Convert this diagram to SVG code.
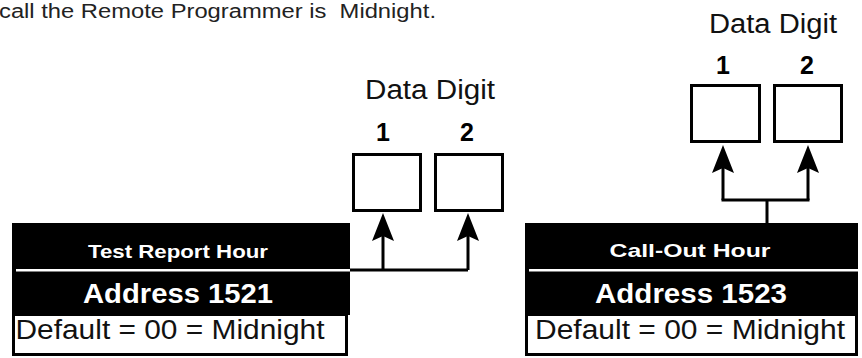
<svg xmlns="http://www.w3.org/2000/svg" width="862" height="358" viewBox="0 0 862 358">
<style>
text{font-family:"Liberation Sans",Arial,sans-serif;}
.reg{font-weight:normal;fill:#111;}
.bold{font-weight:bold;}
.wt{fill:#fff;font-weight:bold;}
.cell{fill:#fff;stroke:#000;stroke-width:3;}
.blk{fill:#000;}
.sep{fill:#fff;}
.wire{fill:none;stroke:#000;stroke-width:3;}
.arr{fill:none;stroke:#000;stroke-width:3;marker-end:url(#ah);}
</style>
<defs>
<marker id="ah" markerUnits="userSpaceOnUse" viewBox="-30 -12 32 24" markerWidth="32" markerHeight="24" refX="-20" refY="0" orient="auto">
<path d="M0,0 L-28,-11 L-23,0 L-28,11 Z" fill="#000"/>
</marker>
</defs>
<rect width="862" height="358" fill="#fff"/>
<text x="-1" y="18" font-size="20" textLength="437" lengthAdjust="spacingAndGlyphs" fill="#222" xml:space="preserve" style="white-space:pre">call the Remote Programmer is  Midnight.</text>

<g id="digits-left">
<text class="reg" x="430" y="99" font-size="27" text-anchor="middle" textLength="130" lengthAdjust="spacingAndGlyphs">Data Digit</text>
<text class="bold" x="383" y="141" font-size="25" text-anchor="middle">1</text>
<text class="bold" x="467" y="141" font-size="25" text-anchor="middle">2</text>
<rect class="cell" x="353.5" y="154.5" width="67" height="56"/>
<rect class="cell" x="435.5" y="154.5" width="67" height="56"/>
</g>

<g id="digits-right">
<text class="reg" x="773" y="33" font-size="27" text-anchor="middle" textLength="128" lengthAdjust="spacingAndGlyphs">Data Digit</text>
<text class="bold" x="723" y="74" font-size="25" text-anchor="middle">1</text>
<text class="bold" x="807" y="74" font-size="25" text-anchor="middle">2</text>
<rect class="cell" x="691.5" y="85.5" width="68" height="56"/>
<rect class="cell" x="774.5" y="85.5" width="67" height="56"/>
</g>

<g id="block-1521">
<rect class="blk" x="12" y="223" width="338" height="92"/>
<rect class="sep" x="16" y="269" width="334" height="2.5"/>
<text class="wt" x="178" y="258" font-size="19" text-anchor="middle" textLength="180" lengthAdjust="spacingAndGlyphs">Test Report Hour</text>
<text class="wt" x="178" y="303" font-size="27" text-anchor="middle" textLength="190" lengthAdjust="spacingAndGlyphs">Address 1521</text>
<rect class="cell" x="13.5" y="314.5" width="333" height="40"/>
<text class="reg" x="170" y="339" font-size="27" text-anchor="middle" textLength="309" lengthAdjust="spacingAndGlyphs" fill="#000">Default = 00 = Midnight</text>
</g>

<g id="block-1523">
<rect class="blk" x="525" y="223" width="333" height="92"/>
<rect class="sep" x="529" y="269" width="329" height="2.5"/>
<text class="wt" x="690" y="257" font-size="19" text-anchor="middle" textLength="161" lengthAdjust="spacingAndGlyphs">Call-Out Hour</text>
<text class="wt" x="691" y="303" font-size="27" text-anchor="middle" textLength="192" lengthAdjust="spacingAndGlyphs">Address 1523</text>
<rect class="cell" x="526.5" y="314.5" width="330" height="40"/>
<text class="reg" x="690" y="339" font-size="27" text-anchor="middle" textLength="310" lengthAdjust="spacingAndGlyphs" fill="#000">Default = 00 = Midnight</text>
</g>

<g id="connectors">
<path class="wire" d="M350,270 H468"/>
<path class="arr" d="M383,270 V233"/>
<path class="arr" d="M468,270 V233"/>
<path class="wire" d="M767,223 V200 M721.5,200 H809.5"/>
<path class="arr" d="M723,200 V165"/>
<path class="arr" d="M808,200 V165"/>
</g>
</svg>
